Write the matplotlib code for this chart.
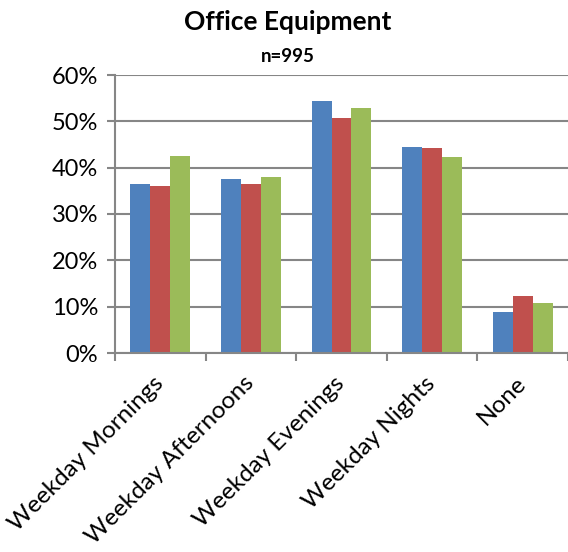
import matplotlib.pyplot as plt
import matplotlib.transforms as mtransforms
import numpy as np

plt.rcParams['font.family'] = ['Lato', 'DejaVu Sans']

# data
categories = ['Weekday Mornings', 'Weekday Afternoons', 'Weekday Evenings',
              'Weekday Nights', 'None']
series_1 = [36.4, 37.6, 54.4, 44.5, 8.8]
series_2 = [36.1, 36.5, 50.8, 44.2, 12.4]
series_3 = [42.6, 38.0, 52.9, 42.2, 10.7]
y_ticks = [0, 10, 20, 30, 40, 50, 60]

colors = ['#4F81BD', '#C0504D', '#9BBB59']
axis_color = '#868686'

W, H = 568, 552
fig = plt.figure(figsize=(W / 100, H / 100), dpi=100)
ax = fig.add_axes([115 / W, (H - 353) / H, 453 / W, 278 / H])

x = np.arange(len(categories))
bw = 0.22
for i, (vals, c) in enumerate(zip([series_1, series_2, series_3], colors)):
    ax.bar(x + (i - 1) * bw, vals,
           width=bw,
           color=c,
           edgecolor='none',
           zorder=3)

ax.set_xlim(-0.5, len(categories) - 0.5)
ax.set_ylim(0, 60)
ax.set_yticks(y_ticks)
ax.set_yticklabels(['%d%%' % t for t in y_ticks])
ax.yaxis.grid(True, color=axis_color, linewidth=1.5, zorder=0)

# category labels between boundary ticks
ax.set_xticks(np.arange(len(categories) + 1) - 0.5)
ax.set_xticklabels([])
ax.set_xticks(x, minor=True)
ax.set_xticklabels(categories, minor=True, rotation=45, ha='right',
                   fontsize=17.5)
ax.tick_params(axis='x', which='minor', length=0, pad=14)
offset = mtransforms.ScaledTranslation(7 / 100, 0, fig.dpi_scale_trans)
for lab in ax.xaxis.get_minorticklabels():
    lab.set_transform(lab.get_transform() + offset)

ax.tick_params(axis='x', which='major', direction='out', length=6,
               width=1.5, color=axis_color)
ax.tick_params(axis='y', direction='out', length=6, width=1.5,
               color=axis_color, labelsize=17, pad=6)

for side in ['top', 'right']:
    ax.spines[side].set_visible(False)
for side in ['left', 'bottom']:
    ax.spines[side].set_color(axis_color)
    ax.spines[side].set_linewidth(1.5)
    ax.spines[side].set_zorder(4)

fig.text(288 / W, 1 - 22 / H, 'Office Equipment',
         ha='center', va='center', fontsize=19, fontweight='bold')
fig.text(288 / W, 1 - 56 / H, 'n=995',
         ha='center', va='center', fontsize=13.5, fontweight='bold')

fig.savefig('out.png', dpi=100)
